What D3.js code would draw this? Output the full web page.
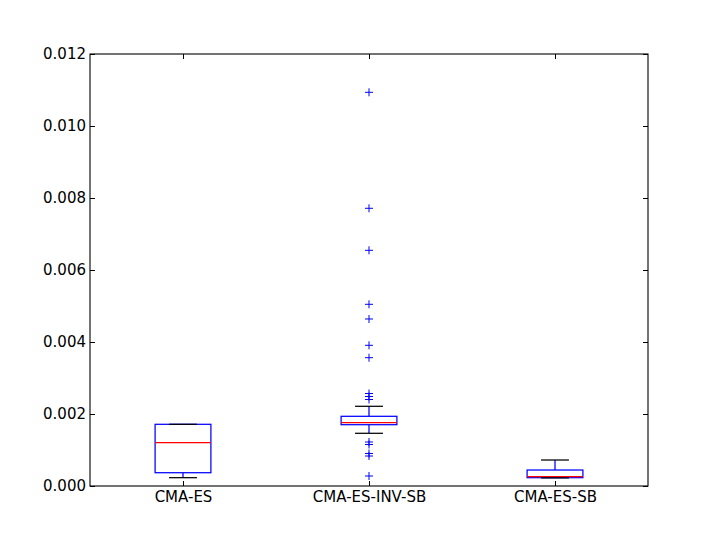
<!DOCTYPE html>
<html><head><meta charset="utf-8">
<script src="https://cdn.jsdelivr.net/npm/d3@7"></script>
<style>body{margin:0;background:#fff}svg{display:block}text{font-family:"DejaVu Sans",sans-serif;font-size:15px;fill:#000}</style>
</head><body><svg id="c" width="720" height="540"></svg>
<script>
const categories = ["CMA-ES", "CMA-ES-INV-SB", "CMA-ES-SB"];
const q1 = [0.000369, 0.001703, 0.000231];
const medians = [0.001203, 0.001758, 0.000259];
const q3 = [0.001714, 0.001936, 0.000444];
const whiskerLow = [0.000231, 0.001464, 0.000225];
const whiskerHigh = [0.001714, 0.002214, 0.000722];
const fliers = [
  [],
  [0.010936, 0.007714, 0.006547, 0.005047, 0.004639, 0.003908, 0.003564,
   0.002569, 0.002486, 0.002403, 0.001222, 0.001153, 0.000903, 0.000833, 0.000278],
  []
];
const yTicks = [0, 0.002, 0.004, 0.006, 0.008, 0.010, 0.012];

const W = 720, H = 540, L = 90, R = 648, T = 54, B = 486;
const svg = d3.select("#c");
const x = d3.scaleLinear().domain([0.5, 3.5]).range([L, R]);
const y = d3.scaleLinear().domain([0, 0.012]).range([B, T]);
const boxW = x(1.15) - x(0.85);
const capW = boxW / 2;

const g = svg.append("g");
categories.forEach((c, i) => {
  const cx = x(i + 1);
  g.append("line").attr("x1", cx).attr("x2", cx).attr("y1", y(q3[i])).attr("y2", y(whiskerHigh[i]))
    .attr("stroke", "#0000ff").attr("stroke-width", 1.25);
  g.append("line").attr("x1", cx).attr("x2", cx).attr("y1", y(q1[i])).attr("y2", y(whiskerLow[i]))
    .attr("stroke", "#0000ff").attr("stroke-width", 1.25);
  g.append("rect").attr("x", cx - boxW / 2).attr("y", y(q3[i])).attr("width", boxW)
    .attr("height", y(q1[i]) - y(q3[i])).attr("fill", "none").attr("stroke", "#0000ff").attr("stroke-width", 1.25);
  g.append("line").attr("x1", cx - boxW / 2).attr("x2", cx + boxW / 2).attr("y1", y(medians[i])).attr("y2", y(medians[i]))
    .attr("stroke", "#ff0000").attr("stroke-width", 1.25);
  [whiskerHigh[i], whiskerLow[i]].forEach(v => {
    g.append("line").attr("x1", cx - capW / 2).attr("x2", cx + capW / 2).attr("y1", y(v)).attr("y2", y(v))
      .attr("stroke", "#000").attr("stroke-width", 1.25);
  });
  fliers[i].forEach(v => {
    const py = y(v);
    g.append("path").attr("d", `M${cx - 4},${py}H${cx + 4}M${cx},${py - 4}V${py + 4}`)
      .attr("stroke", "#0000ff").attr("stroke-width", 1).attr("fill", "none");
  });
});

svg.append("rect").attr("x", L).attr("y", T).attr("width", R - L).attr("height", B - T)
  .attr("fill", "none").attr("stroke", "#000").attr("stroke-width", 1.1);

const yAxisL = d3.axisLeft(y).tickValues(yTicks).tickFormat(d3.format(".3f")).tickSizeInner(-5).tickSizeOuter(0).tickPadding(4);
const ya = svg.append("g").attr("transform", `translate(${L},0)`).call(yAxisL);
ya.select(".domain").remove();
ya.selectAll("text").style("font-size", "15px").style("font-family", "DejaVu Sans");
const yAxisR = d3.axisRight(y).tickValues(yTicks).tickFormat("").tickSizeInner(-5).tickSizeOuter(0);
const yr = svg.append("g").attr("transform", `translate(${R},0)`).call(yAxisR);
yr.select(".domain").remove();

const xAxis = d3.axisBottom(x).tickValues([1, 2, 3]).tickFormat((d) => categories[d - 1]).tickSizeInner(-5).tickSizeOuter(0).tickPadding(5);
const xa = svg.append("g").attr("transform", `translate(0,${B})`).call(xAxis);
xa.select(".domain").remove();
xa.selectAll("text").style("font-size", "15px").style("font-family", "DejaVu Sans");
const xAxisT = d3.axisTop(x).tickValues([1, 2, 3]).tickFormat("").tickSizeInner(-5).tickSizeOuter(0);
const xt = svg.append("g").attr("transform", `translate(0,${T})`).call(xAxisT);
xt.select(".domain").remove();
svg.selectAll(".tick line").attr("stroke", "#000").attr("stroke-width", 1);
</script></body></html>
